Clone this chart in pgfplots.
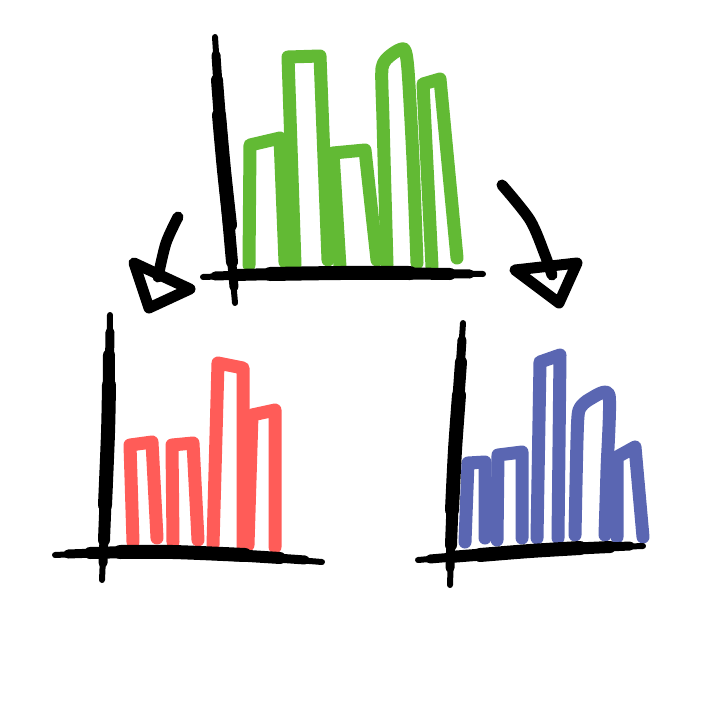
\documentclass[border=0pt]{standalone}
\usepackage{pgfplots}
\pgfplotsset{compat=1.18}
\definecolor{cgreen}{RGB}{98,186,52}
\definecolor{cred}{RGB}{255,92,88}
\definecolor{cblue}{RGB}{90,102,178}
\begin{document}
\begin{tikzpicture}
\begin{axis}[
  width=720pt, height=720pt, scale only axis,
  xmin=0, xmax=720, ymin=0, ymax=720, y dir=reverse,
  hide axis, clip=true,
  every axis plot/.append style={line cap=round, line join=round},
  bar/.style={line width=13pt},
  a1/.style={black, line width=6pt},
  a2/.style={black, line width=9pt},
  a3/.style={black, line width=12pt},
  a4/.style={black, line width=14pt},
  arr/.style={black, line width=11pt},
]
\addplot[fill=white, draw=none] coordinates {(0,0)(720,0)(720,720)(0,720)} \closedcycle;

% ---------- top chart (green) ----------
\addplot[cgreen, bar] coordinates {(249,265)(250,145)(280,138)(285,262)};
\addplot[cgreen, bar] coordinates {(295,265)(288,57)(320,56)(328,260)};
\addplot[cgreen, bar] coordinates {(340,267)(333,153)(365,150)(377,260)};
\addplot[cgreen, bar, smooth, tension=0.4] coordinates {(387,265)(383,120)(382,68)(391,55)(404,49)(408,70)(413,160)(417,263)};
\addplot[cgreen, bar] coordinates {(432,267)(423,84)(440,79)(457,258)};
% axes (tapered brush strokes)
\addplot[a1, smooth] coordinates {(215,37)(224,170)(235,303)};
\addplot[a2, smooth] coordinates {(216,55)(224,170)(234,287)};
\addplot[a3, smooth] coordinates {(217,80)(224,170)(232,262)};
\addplot[a4, smooth] coordinates {(219,115)(224,170)(230,225)};
\addplot[a1, smooth] coordinates {(203,277)(340,273)(483,274)};
\addplot[a2, smooth] coordinates {(215,276)(340,273)(470,274)};
\addplot[a3, smooth] coordinates {(235,275)(340,273)(450,274)};
\addplot[a4, smooth] coordinates {(270,274)(340,273)(410,273)};

% ---------- left chart (red) ----------
\addplot[cred, bar] coordinates {(133,542)(130,445)(152,442)(157,538)};
\addplot[cred, bar] coordinates {(173,542)(172,445)(193,443)(198,540)};
\addplot[cred, bar] coordinates {(213,545)(218,363)(243,368)(243,547)};
\addplot[cred, bar] coordinates {(248,545)(252,415)(275,410)(275,547)};
\addplot[a1, smooth] coordinates {(110,315)(108,433)(102,580)};
\addplot[a2, smooth] coordinates {(110,332)(108,433)(103,563)};
\addplot[a3, smooth] coordinates {(109,355)(108,433)(104,540)};
\addplot[a4, smooth] coordinates {(109,385)(108,433)(105,505)};
\addplot[a1, smooth] coordinates {(55,555)(173,552)(322,562)};
\addplot[a2, smooth] coordinates {(68,554)(173,552)(305,560)};
\addplot[a3, smooth] coordinates {(90,553)(173,552)(280,558)};
\addplot[a4, smooth] coordinates {(120,552)(173,552)(245,555)};

% ---------- right chart (blue) ----------
\addplot[cblue, bar] coordinates {(465,542)(468,463)(485,462)(485,538)};
\addplot[cblue, bar] coordinates {(497,540)(498,455)(522,452)(522,538)};
\addplot[cblue, bar] coordinates {(537,538)(540,362)(560,355)(558,538)};
\addplot[cblue, bar, smooth, tension=0.4] coordinates {(575,535)(577,440)(579,410)(590,399)(609,395)(607,470)(605,535)};
\addplot[cblue, bar] coordinates {(617,537)(617,457)(635,447)(643,537)};
\addplot[a1, smooth] coordinates {(463,323)(455,450)(450,585)};
\addplot[a2, smooth] coordinates {(462,340)(455,450)(450,568)};
\addplot[a3, smooth] coordinates {(461,362)(455,450)(451,545)};
\addplot[a4, smooth] coordinates {(459,395)(455,450)(452,510)};
\addplot[a1, smooth] coordinates {(418,560)(530,551)(643,546)};
\addplot[a2, smooth] coordinates {(430,559)(530,551)(630,546)};
\addplot[a3, smooth] coordinates {(450,557)(530,551)(610,547)};
\addplot[a4, smooth] coordinates {(480,555)(530,551)(580,548)};

% ---------- arrows ----------
\addplot[arr, smooth] coordinates {(178,217)(166,243)(158,277)};
\addplot[arr] coordinates {(134,263)(190,289)(149,308)(134,263)};
\addplot[arr, smooth] coordinates {(502,185)(530,220)(545,255)(552,275)};
\addplot[arr] coordinates {(515,270)(577,263)(559,303)(515,270)};
\end{axis}
\end{tikzpicture}
\end{document}
